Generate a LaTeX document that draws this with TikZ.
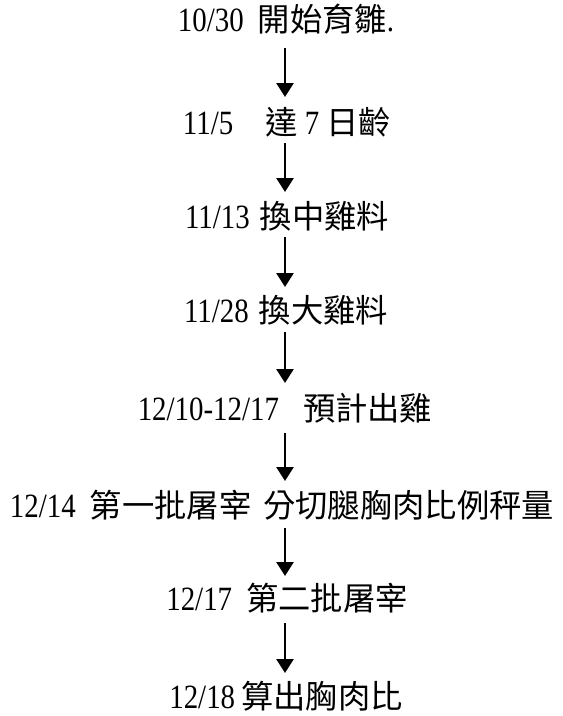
\documentclass[tikz,border=0pt]{standalone}
\usepackage{fontspec}
\setmainfont{Liberation Serif}[FakeStretch=0.85]
\newfontfamily\zhfont{Noto Sans CJK TC}[Scale=0.95]
\newcommand{\zh}[1]{{\zhfont #1}}
\usetikzlibrary{arrows.meta}
\begin{document}
\begin{tikzpicture}[x=1pt,y=-1pt,
  lbl/.style={inner sep=0pt,anchor=base,font=\fontsize{34pt}{40pt}\selectfont},
  flow/.style={line width=2.7pt,-{Triangle[width=17pt,length=14pt]}}]
\useasboundingbox (0,0) rectangle (563,716);
\node[lbl] (n1) at (286,31) {10/30\hspace{14pt}\zh{開始育雛}.};
\node[lbl] (n2) at (287,134) {11/5\hspace{32pt}\zh{達} 7 \zh{日齡}};
\node[lbl] (n3) at (287,228) {11/13\hspace{10pt}\zh{換中雞料}};
\node[lbl] (n4) at (286,322) {11/28\hspace{10pt}\zh{換大雞料}};
\node[lbl] (n5) at (285,420) {12/10-12/17\hspace{24pt}\zh{預計出雞}};
\node[lbl] (n6) at (282,517) {12/14\hspace{14pt}\zh{第一批屠宰}\hspace{12pt}\zh{分切腿胸肉比例秤量}};
\node[lbl] (n7) at (287,610) {12/17\hspace{14pt}\zh{第二批屠宰}};
\node[lbl] (n8) at (286,708) {12/18\hspace{6pt}\zh{算出胸肉比}};
\coordinate (s1) at (285,48);  \coordinate (e1) at (285,97);
\coordinate (s2) at (285,143); \coordinate (e2) at (285,192);
\coordinate (s3) at (285,237); \coordinate (e3) at (285,287);
\coordinate (s4) at (285,332); \coordinate (e4) at (285,383);
\coordinate (s5) at (285,433); \coordinate (e5) at (285,481);
\coordinate (s6) at (285,528); \coordinate (e6) at (285,576);
\coordinate (s7) at (285,623); \coordinate (e7) at (285,673);
\foreach \i in {1,...,7} \draw[flow] (s\i) -- (e\i);
\end{tikzpicture}
\end{document}
